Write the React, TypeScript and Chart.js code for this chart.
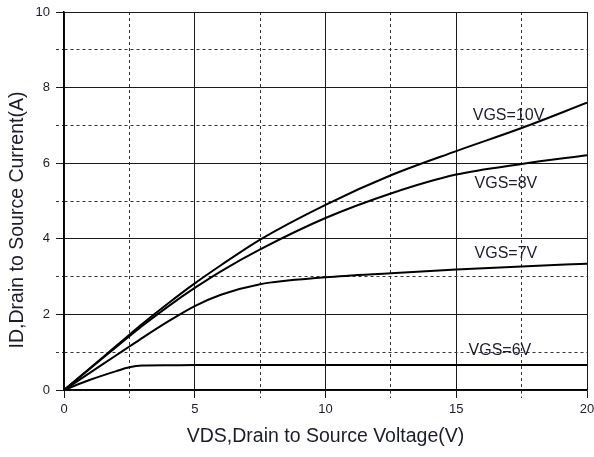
import React, { useEffect, useRef } from "react";
import { Chart, registerables } from "chart.js";

Chart.register(...registerables);

// VDS (V) sample points shared by all curves
const vds = [0, 1, 2, 2.5, 3, 4, 5, 6, 7.5, 10, 12.5, 15, 17.5, 20];

// ID (A) for each gate voltage
const id10V = [0, 0.58, 1.17, 1.46, 1.75, 2.3, 2.82, 3.3, 3.98, 4.9, 5.68, 6.32, 6.93, 7.6];
const id8V = [0, 0.57, 1.14, 1.42, 1.7, 2.22, 2.7, 3.14, 3.72, 4.55, 5.2, 5.7, 5.98, 6.21];
const id7V = [0, 0.46, 0.92, 1.15, 1.38, 1.82, 2.22, 2.52, 2.8, 2.98, 3.09, 3.19, 3.27, 3.34];
const id6V = [0, 0.27, 0.5, 0.6, 0.645, 0.655, 0.66, 0.66, 0.66, 0.66, 0.66, 0.66, 0.66, 0.66];

const seriesNames = ["VGS=10V", "VGS=8V", "VGS=7V", "VGS=6V"];
const seriesValues = [id10V, id8V, id7V, id6V];

// curve label anchors in data units (VDS, ID)
const labelX = [17.0, 16.9, 16.9, 16.67];
const labelY = [7.27, 5.46, 3.61, 1.04];

const xTitle = "VDS,Drain to Source Voltage(V)";
const yTitle = "ID,Drain to Source Current(A)";

const FONT = '"Liberation Sans", Arial, sans-serif';
const TEXT = "#1c1c30";

export default function App() {
  const ref = useRef<HTMLCanvasElement | null>(null);

  useEffect(() => {
    if (!ref.current) return;
    const textPlugin = {
      id: "curveText",
      afterDraw(chart: any) {
        const { ctx, chartArea, scales } = chart;
        const xs = scales.x;
        const ys = scales.y;
        ctx.save();
        ctx.fillStyle = TEXT;
        ctx.textAlign = "center";
        ctx.textBaseline = "middle";
        ctx.font = `16px ${FONT}`;
        seriesNames.forEach((n, i) => {
          ctx.fillText(n, xs.getPixelForValue(labelX[i]), ys.getPixelForValue(labelY[i]));
        });
        ctx.font = `19.5px ${FONT}`;
        ctx.fillText(xTitle, (chartArea.left + chartArea.right) / 2, chartArea.bottom + 47);
        ctx.translate(18, (chartArea.top + chartArea.bottom) / 2 + 19);
        ctx.rotate(-Math.PI / 2);
        ctx.fillText(yTitle, 0, 0);
        ctx.restore();
      },
    };

    const major = "#1a1a1a";
    const minor = "#333";

    const chart = new Chart(ref.current, {
      type: "line",
      data: {
        datasets: seriesNames.map((name, i) => ({
          label: name,
          data: vds.map((x, j) => ({ x, y: seriesValues[i][j] })),
          borderColor: "#000",
          borderWidth: 2,
          pointRadius: 0,
          fill: false,
          cubicInterpolationMode: "monotone" as const,
        })),
      },
      options: {
        responsive: false,
        animation: false,
        layout: { padding: { top: 12, right: 7, bottom: 0, left: 0 } },
        plugins: { legend: { display: false }, tooltip: { enabled: false } },
        scales: {
          x: {
            type: "linear",
            min: 0,
            max: 20,
            afterFit(scale: any) {
              scale.height = 67;
              scale.paddingLeft = 0;
              scale.paddingRight = 0;
            },
            ticks: {
              stepSize: 2.5,
              autoSkip: false,
              maxRotation: 0,
              padding: 4,
              color: TEXT,
              font: { family: FONT, size: 13 },
              callback: (v: any) => (Number(v) % 5 === 0 ? String(v) : ""),
            },
            grid: {
              color: (c: any) => (c.tick && c.tick.value % 5 === 0 ? major : minor),
              lineWidth: 1,
              tickLength: 8,
              tickColor: (c: any) => (c.tick && c.tick.value % 5 === 0 ? major : minor),
              tickBorderDash: (c: any) => (c.tick && c.tick.value % 5 !== 0 ? [3, 3] : []),
            },
            border: {
              display: true,
              color: "#000",
              width: 1.5,
              dash: (c: any) => (c.tick && c.tick.value % 5 !== 0 ? [3, 3] : []),
            },
          },
          y: {
            type: "linear",
            min: 0,
            max: 10,
            afterFit(scale: any) {
              scale.width = 64;
              scale.paddingTop = 0;
              scale.paddingBottom = 0;
            },
            ticks: {
              stepSize: 1,
              autoSkip: false,
              padding: 6,
              color: TEXT,
              font: { family: FONT, size: 13 },
              callback: (v: any) => (Number(v) % 2 === 0 ? String(v) : ""),
            },
            grid: {
              color: (c: any) => (c.tick && c.tick.value % 2 === 0 ? major : minor),
              lineWidth: 1,
              tickLength: 8,
              tickColor: (c: any) => (c.tick && c.tick.value % 2 === 0 ? major : minor),
              tickBorderDash: (c: any) => (c.tick && c.tick.value % 2 !== 0 ? [3, 3] : []),
            },
            border: {
              display: true,
              color: "#000",
              width: 1.5,
              dash: (c: any) => (c.tick && c.tick.value % 2 !== 0 ? [3, 3] : []),
            },
          },
        },
      },
      plugins: [textPlugin],
    });
    return () => chart.destroy();
  }, []);

  return (
    <div style={{ position: "fixed", left: 0, top: 0, width: 594, height: 457, background: "#fff" }}>
      <canvas ref={ref} width={594} height={457} style={{ display: "block" }} />
    </div>
  );
}
